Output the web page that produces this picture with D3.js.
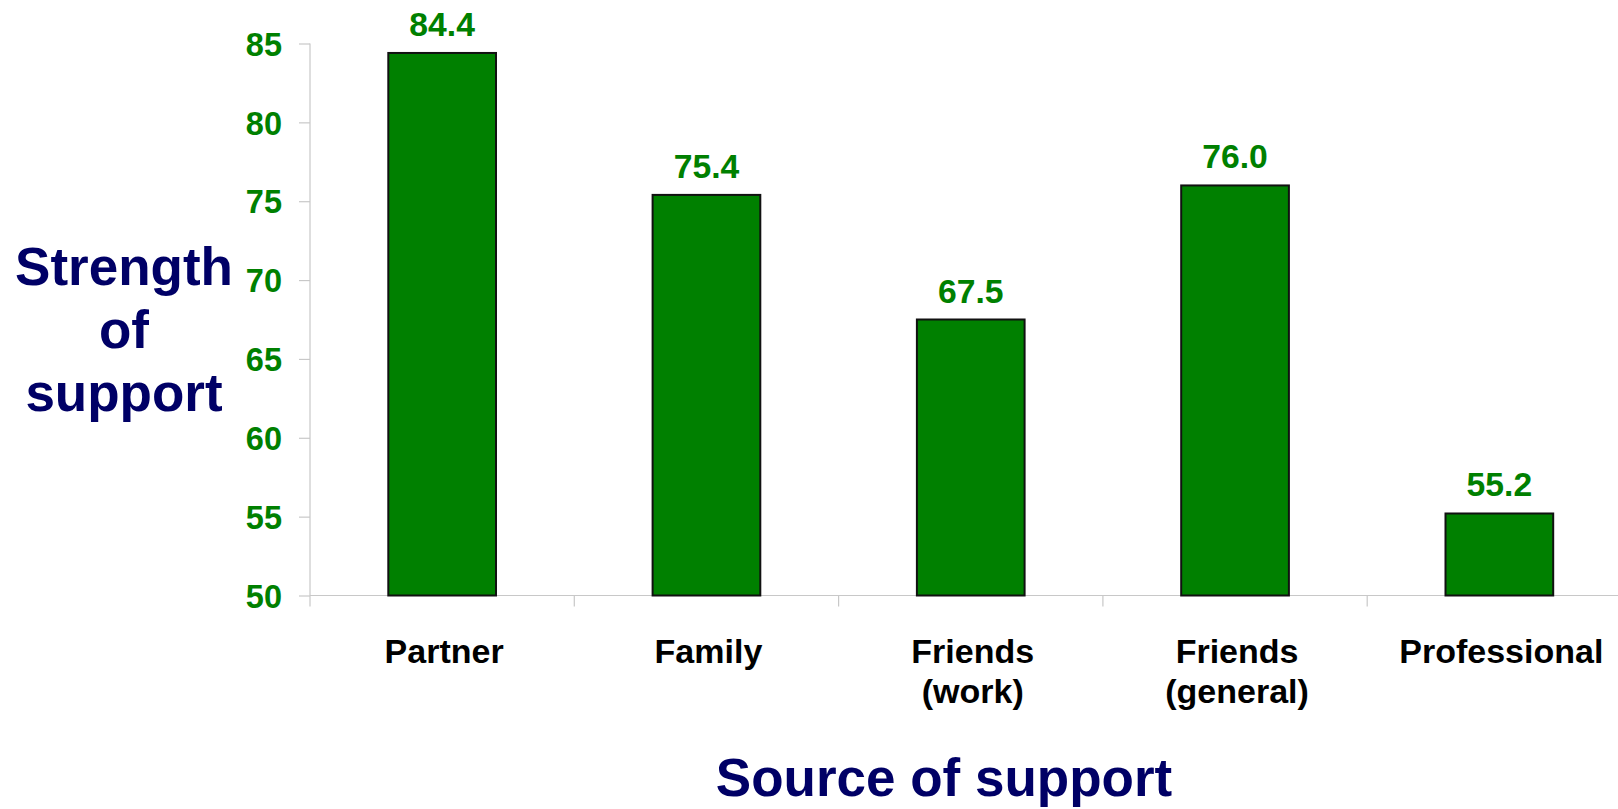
<!DOCTYPE html>
<html>
<head>
<meta charset="utf-8">
<script src="https://cdn.jsdelivr.net/npm/d3@7"></script>
<style>
  html, body { margin: 0; padding: 0; background: #fff; }
  svg { display: block; }
  text { font-family: "Liberation Sans", Arial, sans-serif; font-weight: bold; }
</style>
</head>
<body>
<svg id="chart" width="1618" height="809"></svg>
<script>
// Support sources and their mean strength scores
const categories = [["Partner"], ["Family"], ["Friends", "(work)"], ["Friends", "(general)"], ["Professional"]];
const values = [84.4, 75.4, 67.5, 76.0, 55.2];
const yTicks = [50, 55, 60, 65, 70, 75, 80, 85];
const yTitle = ["Strength", "of", "support"];
const xTitle = "Source of support";

const W = 1618, H = 809;
const plot = { left: 310, right: 1631.5, top: 43.5, bottom: 595.5 };
const green = "#008000";
const navy = "#000066";
const axisGrey = "#c8c8c8";

const svg = d3.select("#chart");

const keys = categories.map(c => c.join(" "));
const x = d3.scaleBand().domain(keys).range([plot.left, plot.right]).paddingInner(0.5925).paddingOuter(0.29625);
const band = d3.scaleBand().domain(keys).range([plot.left, plot.right]);
const y = d3.scaleLinear().domain([50, 85]).range([plot.bottom, plot.top]);

// Y axis
const yAxis = svg.append("g")
  .attr("transform", `translate(${plot.left},0)`)
  .call(d3.axisLeft(y).tickValues(yTicks).tickSize(11).tickPadding(17).tickFormat(d3.format("d")));
yAxis.select(".domain").attr("stroke", axisGrey).attr("stroke-width", 1.2)
  .attr("d", `M0,${plot.top}V${plot.bottom + 11}`);
yAxis.selectAll(".tick line").attr("stroke", axisGrey).attr("stroke-width", 1.2);
yAxis.selectAll(".tick text")
  .attr("fill", green).style("font-size", "32.5px").attr("dy", "0.36em");

// X axis: boundary ticks between categories
const xAxisG = svg.append("g");
xAxisG.append("line")
  .attr("x1", plot.left).attr("x2", W)
  .attr("y1", plot.bottom).attr("y2", plot.bottom)
  .attr("stroke", axisGrey).attr("stroke-width", 1.2);
xAxisG.selectAll("line.bt")
  .data(keys.slice(1))
  .join("line")
  .attr("class", "bt")
  .attr("x1", d => band(d)).attr("x2", d => band(d))
  .attr("y1", plot.bottom).attr("y2", plot.bottom + 11)
  .attr("stroke", axisGrey).attr("stroke-width", 1.2);

// Bars
svg.append("g").selectAll("rect")
  .data(values)
  .join("rect")
  .attr("x", (d, i) => x(keys[i]))
  .attr("width", x.bandwidth())
  .attr("y", d => y(d))
  .attr("height", d => y(50) - y(d))
  .attr("fill", green)
  .attr("stroke", "#111")
  .attr("stroke-width", 2);

// Value labels
svg.append("g").selectAll("text")
  .data(values)
  .join("text")
  .attr("x", (d, i) => x(keys[i]) + x.bandwidth() / 2)
  .attr("y", d => y(d) - 17)
  .attr("text-anchor", "middle")
  .attr("fill", green)
  .style("font-size", "33.7px")
  .text(d => d.toFixed(1));

// Category labels
const cat = svg.append("g").selectAll("text")
  .data(categories)
  .join("text")
  .attr("x", (d, i) => band(keys[i]) + band.bandwidth() / 2 + 2)
  .attr("y", 662.7)
  .attr("text-anchor", "middle")
  .attr("fill", "#000")
  .style("font-size", "34px");
cat.selectAll("tspan")
  .data(d => d)
  .join("tspan")
  .attr("x", function() { return d3.select(this.parentNode).attr("x"); })
  .attr("dy", (d, i) => i === 0 ? 0 : 40.7)
  .text(d => d);

// Axis titles
const yt = svg.append("text")
  .attr("text-anchor", "middle")
  .attr("fill", navy)
  .style("font-size", "53px")
  .attr("y", 285);
yt.selectAll("tspan")
  .data(yTitle)
  .join("tspan")
  .attr("x", 124)
  .attr("dy", (d, i) => i === 0 ? 0 : 63)
  .text(d => d);

svg.append("text")
  .attr("x", 944)
  .attr("y", 795.5)
  .attr("text-anchor", "middle")
  .attr("fill", navy)
  .style("font-size", "53px")
  .text(xTitle);
</script>
</body>
</html>
